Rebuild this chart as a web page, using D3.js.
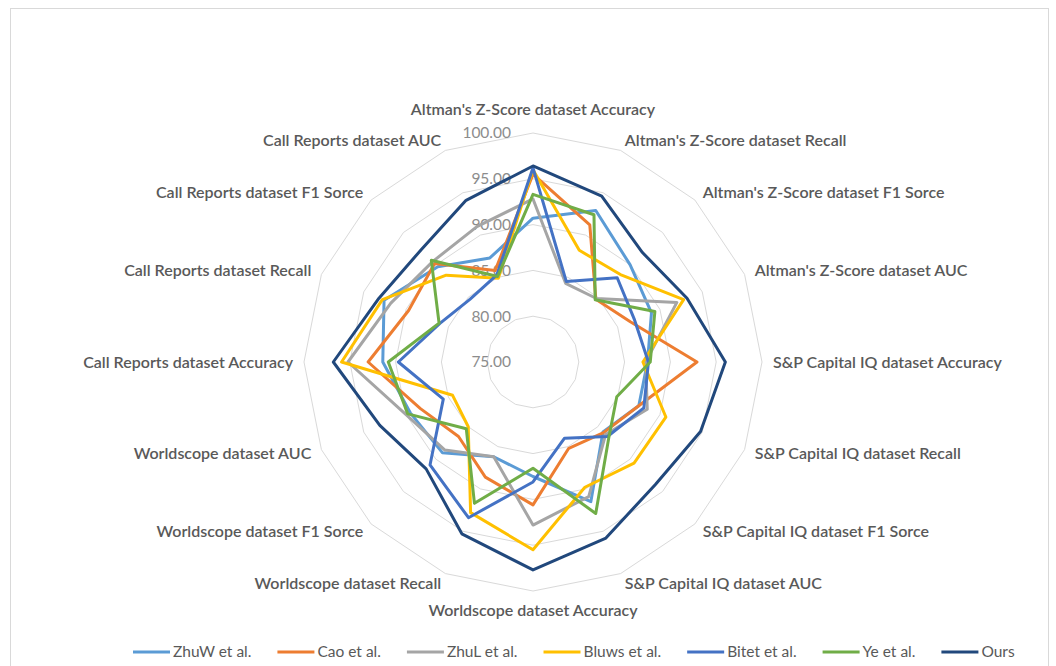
<!DOCTYPE html>
<html>
<head>
<meta charset="utf-8">
<script src="https://cdn.jsdelivr.net/npm/d3@7"></script>
<style>
  body { margin: 0; background: #fff; }
  svg { display: block; font-family: Lato, "Open Sans", sans-serif; }
</style>
</head>
<body>
<svg id="chart" width="1056" height="666"></svg>
<script>
// categories, clockwise from the top
var axes = [
  "Altman's Z-Score dataset Accuracy", "Altman's Z-Score dataset Recall",
  "Altman's Z-Score dataset F1 Sorce", "Altman's Z-Score dataset AUC",
  "S&P Capital IQ dataset Accuracy", "S&P Capital IQ dataset Recall",
  "S&P Capital IQ dataset F1 Sorce", "S&P Capital IQ dataset AUC",
  "Worldscope dataset Accuracy", "Worldscope dataset Recall",
  "Worldscope dataset F1 Sorce", "Worldscope dataset AUC",
  "Call Reports dataset Accuracy", "Call Reports dataset Recall",
  "Call Reports dataset F1 Sorce", "Call Reports dataset AUC"
];

var seriesNames = ["ZhuW et al.", "Cao et al.", "ZhuL et al.", "Bluws et al.", "Bitet et al.", "Ye et al.", "Ours"];
var seriesColors = ["#5b9bd5", "#ed7d31", "#a5a5a5", "#ffc000", "#4472c4", "#70ad47", "#21487c"];

var zhuW  = [90.7, 92.9, 90.0, 89.0, 87.5, 87.5, 85.8, 91.5, 87.5, 86.2, 89.0, 89.5, 91.4, 92.6, 89.7, 87.3];
var cao   = [95.5, 91.2, 84.7, 86.5, 92.9, 87.5, 85.9, 85.2, 90.6, 88.6, 86.5, 88.3, 93.0, 89.7, 90.2, 85.8];
var zhuL  = [92.8, 84.3, 84.8, 92.0, 87.3, 88.5, 86.2, 90.9, 92.8, 86.2, 88.6, 90.0, 95.2, 91.8, 90.5, 91.0];
var bluws = [96.0, 88.2, 88.5, 92.8, 87.0, 90.7, 90.6, 89.8, 95.5, 92.8, 85.0, 84.5, 95.9, 92.8, 88.4, 84.9];
var bitet = [96.2, 84.5, 88.0, 87.0, 87.6, 88.1, 86.5, 84.0, 88.1, 93.4, 90.9, 85.6, 89.7, 86.0, 84.7, 85.3];
var ye    = [93.3, 92.4, 84.6, 89.4, 87.8, 84.9, 86.7, 92.9, 86.6, 91.7, 85.3, 89.8, 90.8, 86.1, 90.7, 85.1];
var ours  = [96.4, 94.6, 91.9, 93.2, 96.0, 94.8, 93.9, 95.8, 97.7, 95.3, 91.5, 93.1, 96.8, 93.2, 92.3, 94.1];

var tickValues = [75, 80, 85, 90, 95, 100];

var allSeries = [zhuW, cao, zhuL, bluws, bitet, ye, ours];

var svg = d3.select("#chart");
var cx = 533, cy = 362, R = 229;
var step = 2 * Math.PI / axes.length;

var r = d3.scaleLinear().domain([75, 100]).range([0, R]);

// chart area border
svg.append("rect")
  .attr("x", 10.5).attr("y", 8.5)
  .attr("width", 1038).attr("height", 680)
  .attr("fill", "none").attr("stroke", "#d9d9d9");

var g = svg.append("g").attr("transform", "translate(" + cx + "," + cy + ")");

// grid polygons
var ring = d3.lineRadial()
  .angle(function(d, i) { return i * step; })
  .radius(function(d) { return r(d); })
  .curve(d3.curveLinearClosed);

g.selectAll("path.grid")
  .data(tickValues.filter(function(t) { return t > 75; }))
  .enter().append("path")
  .attr("class", "grid")
  .attr("d", function(t) { return ring(axes.map(function() { return t; })); })
  .attr("fill", "none")
  .attr("stroke", "#d9d9d9")
  .attr("stroke-width", 1);

// value labels along the top spoke
g.selectAll("text.tick")
  .data(tickValues)
  .enter().append("text")
  .attr("class", "tick")
  .attr("x", -22)
  .attr("y", function(t) { return -r(t); })
  .attr("dy", "0.35em")
  .attr("text-anchor", "end")
  .attr("font-size", 15.5)
  .attr("fill", "#8c8c8c")
  .text(d3.format(".2f"));

// category labels
var labelR = R + 11;
g.selectAll("text.cat")
  .data(axes)
  .enter().append("text")
  .attr("class", "cat")
  .attr("x", function(d, i) { return labelR * Math.sin(i * step); })
  .attr("y", function(d, i) { return -labelR * Math.cos(i * step); })
  .attr("dy", function(d, i) {
    var c = Math.cos(i * step);
    if (c > 0.99) return "-0.45em";
    if (c < -0.99) return "0.85em";
    return "0.35em";
  })
  .attr("text-anchor", function(d, i) {
    var s = Math.sin(i * step);
    return Math.abs(s) < 0.01 ? "middle" : (s > 0 ? "start" : "end");
  })
  .attr("font-size", 16)
  .attr("font-weight", 600)
  .attr("fill", "#595959")
  .text(function(d) { return d; });

// series
var line = d3.lineRadial()
  .angle(function(d, i) { return i * step; })
  .radius(function(d) { return r(d); })
  .curve(d3.curveLinearClosed);

g.selectAll("path.series")
  .data(allSeries)
  .enter().append("path")
  .attr("class", "series")
  .attr("d", line)
  .attr("fill", "none")
  .attr("stroke", function(d, i) { return seriesColors[i]; })
  .attr("stroke-width", 3)
  .attr("stroke-linejoin", "round");

// legend
var legend = svg.append("g").attr("transform", "translate(0,652)");
var lx = 133;
seriesNames.forEach(function(name, i) {
  var item = legend.append("g").attr("transform", "translate(" + lx + ",0)");
  item.append("line")
    .attr("x1", 0).attr("x2", 37).attr("y1", 0).attr("y2", 0)
    .attr("stroke", seriesColors[i]).attr("stroke-width", 3);
  var t = item.append("text")
    .attr("x", 40).attr("dy", "0.35em")
    .attr("font-size", 15.5)
    .attr("fill", "#595959")
    .text(name);
  lx += 40 + t.node().getComputedTextLength() + 26;
});
</script>
</body>
</html>
